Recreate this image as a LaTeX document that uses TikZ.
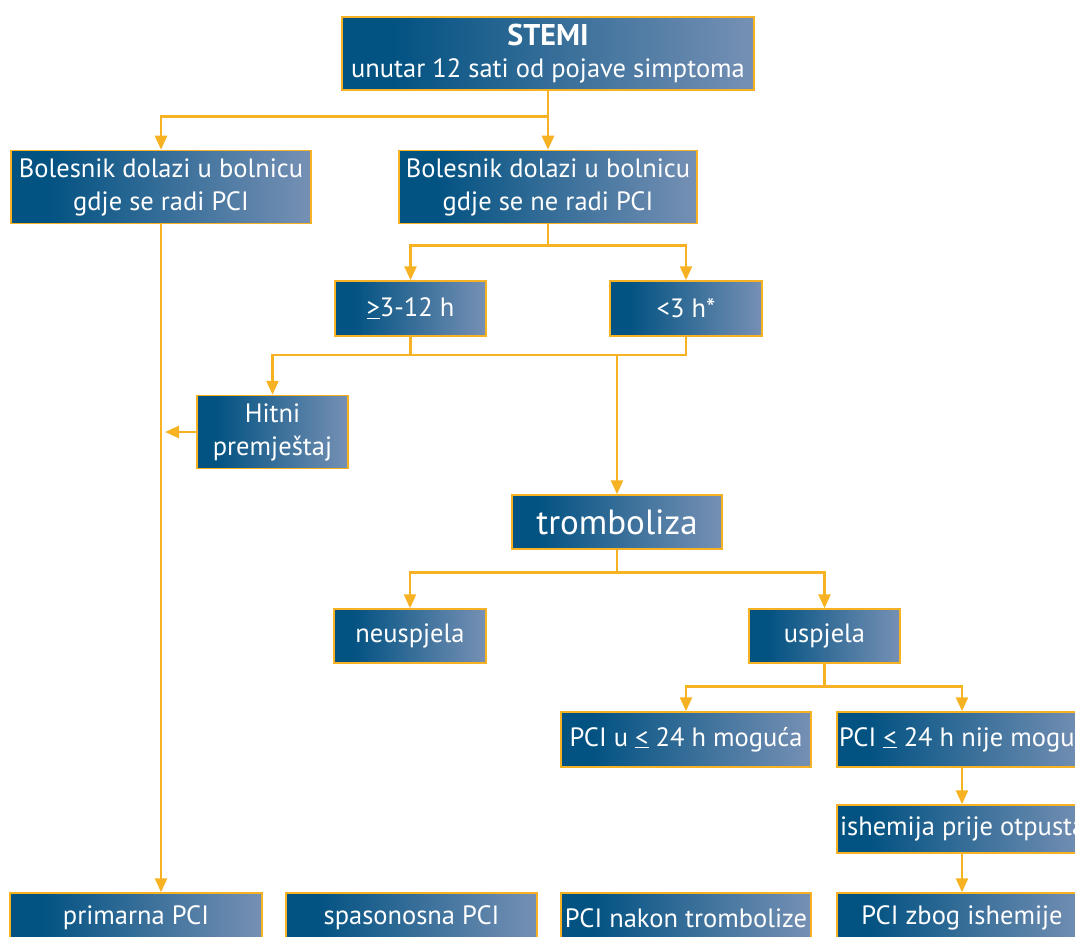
\documentclass[tikz,border=0pt]{standalone}
\usepackage{fontspec}
\setmainfont{PT Sans}
\usetikzlibrary{arrows.meta}
\definecolor{bdark}{RGB}{2,82,130}
\definecolor{blight}{RGB}{118,144,180}
\definecolor{ora}{RGB}{246,178,35}
\pgfdeclarehorizontalshading{boxshade}{100bp}{color(0bp)=(bdark); color(25bp)=(bdark); color(31bp)=(bdark); color(75bp)=(blight); color(100bp)=(blight)}
\tikzset{
  box/.style={draw=ora, line width=1.5pt, shading=boxshade, text=white, align=center, inner sep=2pt, font=\fontsize{26.5}{33}\selectfont},
  conn/.style={draw=ora, line width=2.6pt},
  arr/.style={conn, -{Triangle[width=12pt,length=14pt]}},
}
\begin{document}
\begin{tikzpicture}[x=1pt,y=-1pt]
\useasboundingbox (0,0) rectangle (1075,936);
\clip (0,0) rectangle (1075,936);
\node[box, minimum width=412pt, minimum height=73pt] (stemi) at (548,53.5) {{\fontsize{30}{30}\selectfont\bfseries STEMI}\\[-1pt]unutar 12 sati od pojave simptoma};
\node[box, minimum width=300pt, minimum height=73pt] (bl) at (161,187) {Bolesnik dolazi u bolnicu\\gdje se radi PCI};
\node[box, minimum width=298pt, minimum height=73pt] (br) at (548,187) {Bolesnik dolazi u bolnicu\\gdje se ne radi PCI};
\node[box, minimum width=151pt, minimum height=55pt] (h312) at (410.5,308.5) {\underline{>}3-12 h};
\node[box, minimum width=152pt, minimum height=55pt] (h3) at (686,308.5) {<3 h*};
\node[box, minimum width=151pt, minimum height=73pt] (hitni) at (272.5,432) {Hitni\\premještaj};
\node[box, minimum width=210pt, minimum height=54pt, font=\fontsize{35}{38}\selectfont] (tromb) at (617,522) {tromboliza};
\node[box, minimum width=152pt, minimum height=54pt] (neus) at (410,636) {neuspjela};
\node[box, minimum width=151pt, minimum height=54pt] (usp) at (824.5,636) {uspjela};
\node[box, minimum width=250pt, minimum height=55pt] (pciu) at (686,739.5) {PCI u \underline{<} 24 h moguća};
\node[box, minimum width=250pt, minimum height=55pt] (pcin) at (962,739.5) {\makebox[246pt][l]{PCI \underline{<} 24 h nije moguća}};
\node[box, minimum width=250pt, minimum height=48pt] (ishem) at (962,829) {\makebox[244pt][l]{ishemija prije otpusta}};
\node[box, minimum width=252pt, minimum height=50pt] (prim) at (136,918) {primarna PCI};
\node[box, minimum width=251pt, minimum height=50pt] (spas) at (411.5,918) {spasonosna PCI};
\node[box, minimum width=250pt, minimum height=50pt] (pcinak) at (686,918) {PCI nakon trombolize};
\node[box, minimum width=250pt, minimum height=50pt] (pcizb) at (962,918) {PCI zbog ishemije};
% connectors
\draw[conn] (stemi.south) -- ++(0,26) coordinate (j1);
\draw[arr] (j1) -| (bl.north);
\draw[arr] (j1) -- (br.north);
\draw[arr] (bl.south) -- (bl.south |- prim.north);
\draw[arr] (hitni.west) -- ([xshift=4pt]bl.south |- hitni.west);
\draw[conn] (br.south) -- ++(0,21) coordinate (j2);
\draw[arr] (j2) -| (h312.north);
\draw[arr] (j2) -| (h3.north);
\coordinate (j3) at (617,355);
\draw[conn] (h312.south) -- (h312.south |- j3);
\draw[arr] (h3.south) |- (hitni.north |- j3) -- (hitni.north);
\draw[arr] (j3) -- (tromb.north);
\draw[conn] (tromb.south) -- ++(0,23) coordinate (j4);
\draw[arr] (j4) -| (neus.north);
\draw[arr] (j4) -| (usp.north);
\draw[conn] (usp.south) -- ++(0,23) coordinate (j5);
\draw[arr] (j5) -| (pciu.north);
\draw[arr] (j5) -| (pcin.north);
\draw[arr] (pcin.south) -- (ishem.north);
\draw[arr] (ishem.south) -- (pcizb.north);
\end{tikzpicture}
\end{document}
